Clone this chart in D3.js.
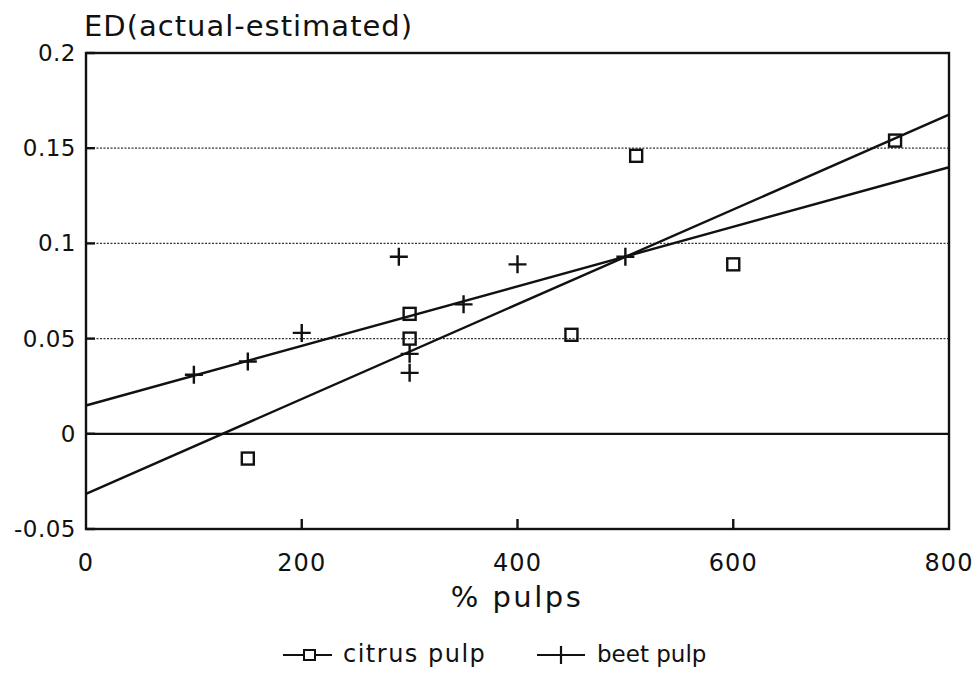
<!DOCTYPE html>
<html>
<head>
<meta charset="utf-8">
<script src="https://cdn.jsdelivr.net/npm/d3@7"></script>
<style>
  body { margin: 0; background: #fff; }
  svg text { font-family: "DejaVu Sans", sans-serif; fill: #111; }
</style>
</head>
<body>
<svg id="chart" width="977" height="677"></svg>
<script>
// values
const citrusX = [150, 300, 300, 450, 510, 600, 750]
const citrusY = [-0.013, 0.063, 0.05, 0.052, 0.146, 0.089, 0.154]
const beetX = [100, 150, 200, 290, 300, 300, 350, 400, 500]
const beetY = [0.031, 0.038, 0.053, 0.093, 0.042, 0.032, 0.068, 0.089, 0.093]
const xTicks = [0, 200, 400, 600, 800]
const yTicks = [-0.05, 0, 0.05, 0.1, 0.15, 0.2]
const yLabels = ['-0.05', '0', '0.05', '0.1', '0.15', '0.2']

const svg = d3.select('#chart')
const x = d3.scaleLinear().domain([0, 800]).range([86, 949])
const y = d3.scaleLinear().domain([-0.05, 0.2]).range([529, 53])

// least squares fit, same as the original plot
function fit(xs, ys) {
    const mx = d3.mean(xs), my = d3.mean(ys)
    let sxy = 0, sxx = 0
    xs.forEach((v, i) => { sxy += (v - mx) * (ys[i] - my); sxx += (v - mx) * (v - mx) })
    const b = sxy / sxx
    return [my - b * mx, b]
}

// dotted grid
svg.append('g').selectAll('line')
    .data(yTicks.filter(d => d > 0 && d < 0.2)).enter().append('line')
    .attr('x1', x(0)).attr('x2', x(800))
    .attr('y1', d => y(d)).attr('y2', d => y(d))
    .attr('stroke', '#333').attr('stroke-width', 1.2).attr('stroke-dasharray', '2,1.5')

// short solid ticks on the left
svg.append('g').selectAll('line')
    .data(yTicks).enter().append('line')
    .attr('x1', x(0)).attr('x2', x(0) + 9)
    .attr('y1', d => y(d)).attr('y2', d => y(d))
    .attr('stroke', '#111').attr('stroke-width', 2.4)

// zero line
svg.append('line')
    .attr('x1', x(0)).attr('x2', x(800)).attr('y1', y(0)).attr('y2', y(0))
    .attr('stroke', '#111').attr('stroke-width', 2.2)

// frame
svg.append('rect')
    .attr('x', x(0)).attr('y', y(0.2))
    .attr('width', x(800) - x(0)).attr('height', y(-0.05) - y(0.2))
    .attr('fill', 'none').attr('stroke', '#111').attr('stroke-width', 2.4)

// x ticks, inward from the bottom
svg.append('g').selectAll('line')
    .data(xTicks.slice(1, -1)).enter().append('line')
    .attr('x1', d => x(d)).attr('x2', d => x(d))
    .attr('y1', y(-0.05)).attr('y2', y(-0.05) - 10)
    .attr('stroke', '#111').attr('stroke-width', 2.4)

svg.append('g').selectAll('text')
    .data(xTicks).enter().append('text')
    .attr('x', d => x(d)).attr('y', 571)
    .attr('text-anchor', 'middle').attr('font-size', 24).attr('letter-spacing', 1)
    .text(d => d)

svg.append('g').selectAll('text')
    .data(yTicks).enter().append('text')
    .attr('x', 76).attr('y', d => y(d) + 8)
    .attr('text-anchor', 'end').attr('font-size', 23).attr('letter-spacing', 0.5)
    .text((d, i) => yLabels[i])

svg.append('text').attr('x', 84).attr('y', 36)
    .attr('font-size', 29).attr('letter-spacing', 1)
    .text('ED(actual-estimated)')

svg.append('text').attr('x', 517).attr('y', 607)
    .attr('text-anchor', 'middle').attr('font-size', 29).attr('letter-spacing', 2.5)
    .text('% pulps')

// regression lines
const line = d3.line().x(d => x(d[0])).y(d => y(d[1]))
;[fit(citrusX, citrusY), fit(beetX, beetY)].forEach(([a, b]) => {
    svg.append('path')
        .attr('d', line([[0, a], [800, a + b * 800]]))
        .attr('fill', 'none').attr('stroke', '#111').attr('stroke-width', 2.4)
})

// markers
const sq = 12, pl = 9
svg.append('g').selectAll('rect')
    .data(citrusX.map((v, i) => [v, citrusY[i]])).enter().append('rect')
    .attr('x', d => x(d[0]) - sq / 2).attr('y', d => y(d[1]) - sq / 2)
    .attr('width', sq).attr('height', sq)
    .attr('fill', 'none').attr('stroke', '#111').attr('stroke-width', 2.4)

svg.append('g').selectAll('path')
    .data(beetX.map((v, i) => [v, beetY[i]])).enter().append('path')
    .attr('d', d => `M${x(d[0]) - pl},${y(d[1])}H${x(d[0]) + pl}M${x(d[0])},${y(d[1]) - pl}V${y(d[1]) + pl}`)
    .attr('stroke', '#111').attr('stroke-width', 2.4)

// legend
const legend = svg.append('g')
legend.append('line').attr('x1', 283).attr('x2', 332).attr('y1', 655).attr('y2', 655)
    .attr('stroke', '#111').attr('stroke-width', 2.2)
legend.append('rect').attr('x', 304).attr('y', 650).attr('width', 11).attr('height', 10)
    .attr('fill', '#fff').attr('stroke', '#111').attr('stroke-width', 2)
legend.append('text').attr('x', 343).attr('y', 662).attr('font-size', 24).attr('letter-spacing', 1.5).text('citrus pulp')
legend.append('line').attr('x1', 537).attr('x2', 585).attr('y1', 655).attr('y2', 655)
    .attr('stroke', '#111').attr('stroke-width', 2.2)
legend.append('line').attr('x1', 561).attr('x2', 561).attr('y1', 646).attr('y2', 664)
    .attr('stroke', '#111').attr('stroke-width', 2.2)
legend.append('text').attr('x', 597).attr('y', 662).attr('font-size', 23).attr('letter-spacing', 0).text('beet pulp')
</script>
</body>
</html>
